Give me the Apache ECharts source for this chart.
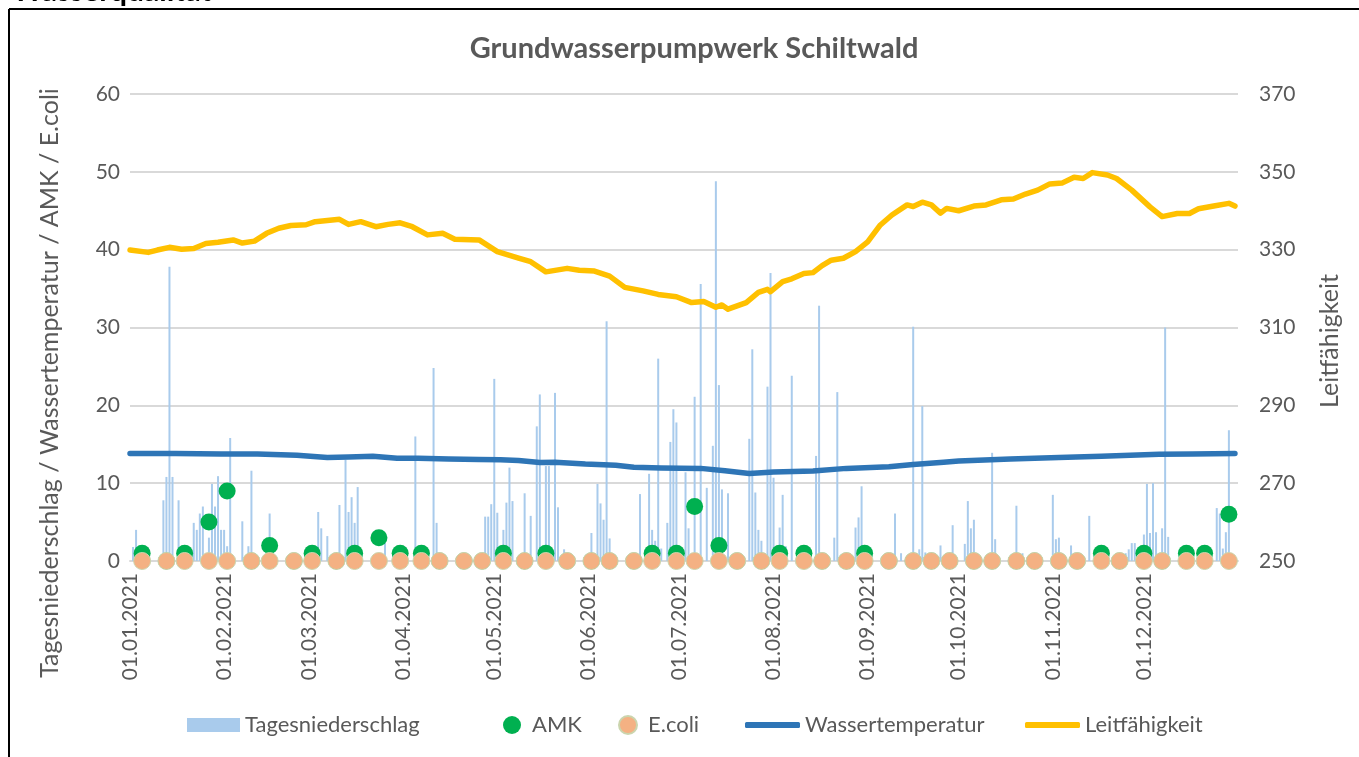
<!DOCTYPE html>
<html>
<head>
<meta charset="utf-8">
<script src="https://cdn.jsdelivr.net/npm/echarts@6/dist/echarts.min.js"></script>
<style>
  html, body { margin: 0; padding: 0; background: #fff; }
  #chart { width: 1359px; height: 757px; }
</style>
</head>
<body>
<div id="chart"></div>
<script>
// day index = days since 01.01.2021
const rainDay = [1,2,11,12,13,14,16,21,22,23,24,26,27,28,29,30,31,32,33,37,39,40,46,62,63,65,69,71,72,73,74,75,84,94,100,101,117,118,119,120,121,123,124,125,126,130,132,134,135,137,138,140,141,143,144,152,154,155,156,157,158,168,171,172,173,174,175,177,178,179,180,183,184,186,188,190,192,193,194,195,197,204,205,206,207,208,210,211,212,214,215,216,218,226,227,232,233,239,240,241,252,254,258,260,261,262,267,271,275,276,277,278,284,285,292,294,304,305,306,310,316,328,329,330,331,334,335,336,337,338,340,341,342,358,359,360,361,362];
const rainMm = [1.8,4,7.8,10.8,37.8,10.8,7.8,4.9,4,6.1,7,3,9.9,7,10.9,4,4,1.9,15.8,5.1,1.9,11.6,6.1,6.3,4.2,3.2,7.2,13,6.3,8.2,4.9,9.5,2.3,16,24.8,4.9,5.7,5.7,7.3,23.4,6.2,4,7.5,12,7.7,8.7,5.8,17.3,21.4,12.2,12.2,21.6,6.9,1.5,1,3.6,9.9,7.4,5.3,30.8,2.9,8.6,11.2,4,2.6,26,1.6,4.9,15.3,19.5,17.8,11.4,4.2,21.1,35.6,9.4,14.8,48.8,22.6,9.2,8.7,15.7,27.2,8.8,4,2.6,22.4,37,10.7,4.3,8.5,1.9,23.8,13.5,32.8,3,21.7,4.3,5.6,9.6,6.1,1,30.1,1.5,19.9,1.1,2,4.6,2.2,7.7,4.2,5.3,13.9,2.8,7.1,1,8.5,2.8,3,2,5.8,1,1.5,2.3,2.3,3.4,9.9,3.6,10,3.7,4.2,30,3.1,6.8,6.1,1.6,3.7,16.8];

const sampleDay = [4,12,18,26,32,40,46,54,60,68,74,82,89,96,102,110,116,123,130,137,144,152,158,166,172,180,186,194,200,208,214,222,228,236,242,250,258,264,270,278,284,292,298,306,312,320,326,334,340,348,354,362];
const amk = [1,0,1,5,9,0,2,0,1,0,1,3,1,1,0,0,0,1,0,1,0,0,0,0,1,1,7,2,0,0,1,1,0,0,1,0,0,0,0,0,0,0,0,0,0,1,0,1,0,1,1,6];
const ecoli = [0,0,0,0,0,0,0,0,0,0,0,0,0,0,0,0,0,0,0,0,0,0,0,0,0,0,0,0,0,0,0,0,0,0,0,0,0,0,0,0,0,0,0,0,0,0,0,0,0,0,0,0];

const tempDay = [0,15,30,42,55,65,72,80,88,95,105,115,122,128,135,140,150,160,166,175,188,196,204,212,225,236,250,258,268,273,290,306,320,339,350,364];
const tempC = [13.8,13.8,13.75,13.75,13.6,13.3,13.35,13.45,13.2,13.2,13.1,13.05,13.0,12.9,12.65,12.7,12.45,12.3,12.05,11.95,11.9,11.6,11.25,11.45,11.55,11.9,12.1,12.4,12.7,12.85,13.1,13.3,13.45,13.7,13.75,13.8];

const lfDay = [0,6,9,13,17,21,25,29,34,37,41,45,49,53,58,61,69,72,76,81,85,89,93,98,103,107,115,121,128,132,137,144,148,153,158,163,169,174,180,185,189,193,195,197,203,207,210,211,215,218,222,225,228,231,235,239,243,247,251,256,258,261,264,267,269,273,278,282,287,291,295,299,303,307,311,314,317,322,325,330,336,340,345,349,352,357,362,364];
const lfVal = [329.9,329.3,329.9,330.6,330.1,330.3,331.6,331.9,332.5,331.7,332.2,334.2,335.5,336.2,336.4,337.2,337.8,336.5,337.2,335.9,336.5,336.9,335.9,333.8,334.2,332.7,332.5,329.5,327.8,326.9,324.3,325.2,324.7,324.5,323.2,320.3,319.4,318.5,317.9,316.4,316.7,315.2,315.8,314.7,316.4,319.0,319.8,319.2,321.8,322.5,323.9,324.1,325.9,327.3,327.8,329.5,332.0,336.2,338.9,341.5,341.1,342.2,341.5,339.4,340.6,340.0,341.2,341.5,342.8,343.0,344.3,345.3,346.9,347.1,348.6,348.3,349.8,349.2,348.3,345.3,341.0,338.5,339.3,339.3,340.5,341.2,341.9,341.2];

const monthStarts = [0,1,2,3,4,5,6,7,8,9,10,11];

const toTime = d => new Date(2021, 0, 1 + d).getTime();
const pair = (days, vals) => days.map((d, i) => [toTime(d), vals[i]]);
const pad = n => (n < 10 ? '0' : '') + n;
const fmtDate = v => { const d = new Date(v); return pad(d.getDate()) + '.' + pad(d.getMonth() + 1) + '.' + d.getFullYear(); };

const FONT = 'Lato';
const GREY = '#595959';

const chart = echarts.init(document.getElementById('chart'));

const legendBase = {
  top: 713, padding: 0,
  textStyle: { color: GREY, fontSize: 22, fontFamily: FONT, lineHeight: 24 },
  selectedMode: false
};
// dot entries have a wider gap before their text
const dotText = { color: GREY, fontSize: 22, fontFamily: FONT, lineHeight: 24, padding: [0, 0, 0, 6] };

chart.setOption({
  animation: false,
  textStyle: { fontFamily: FONT },
  title: {
    text: 'Grundwasserpumpwerk Schiltwald',
    left: 689, top: 29, textAlign: 'center',
    textStyle: { color: GREY, fontSize: 29, fontWeight: 'bold', fontFamily: FONT }
  },
  grid: { left: 130, right: 121, top: 94, bottom: 196 },
  xAxis: {
    type: 'value',
    min: toTime(0), max: toTime(365),
    axisLine: { lineStyle: { color: '#D9D9D9', width: 2 } },
    axisTick: { show: false },
    splitLine: { show: false },
    axisLabel: {
      customValues: monthStarts.map(m => new Date(2021, m, 1).getTime()),
      rotate: 90, margin: 12, color: GREY, fontSize: 21, fontFamily: FONT,
      formatter: fmtDate
    }
  },
  yAxis: [
    {
      type: 'value', min: 0, max: 60, interval: 10,
      axisLine: { show: false }, axisTick: { show: false },
      splitLine: { lineStyle: { color: '#D9D9D9', width: 2 } },
      axisLabel: { color: GREY, fontSize: 21, margin: 10, fontFamily: FONT }
    },
    {
      type: 'value', min: 250, max: 370, interval: 20,
      axisLine: { show: false }, axisTick: { show: false },
      splitLine: { show: false },
      axisLabel: { color: GREY, fontSize: 21, margin: 21, fontFamily: FONT }
    }
  ],
  legend: [
    Object.assign({}, legendBase, { left: 187, data: ['Tagesniederschlag'], icon: 'rect', itemWidth: 53, itemHeight: 14 }),
    Object.assign({}, legendBase, { left: 503, data: ['AMK'], icon: 'circle', itemWidth: 18, itemHeight: 18, textStyle: dotText }),
    Object.assign({}, legendBase, { left: 618, data: ['E.coli'], icon: 'circle', itemWidth: 18, itemHeight: 18, textStyle: dotText }),
    Object.assign({}, legendBase, { left: 745, data: ['Wassertemperatur'], icon: 'roundRect', itemWidth: 55, itemHeight: 6 }),
    Object.assign({}, legendBase, { left: 1025, data: ['Leitfähigkeit'], icon: 'roundRect', itemWidth: 55, itemHeight: 6 })
  ],
  graphic: [
    { type: 'line', shape: { x1: 9, y1: 9, x2: 1359, y2: 9 }, style: { stroke: '#000', lineWidth: 2 } },
    { type: 'line', shape: { x1: 9, y1: 9, x2: 9, y2: 757 }, style: { stroke: '#000', lineWidth: 2 } },
    { type: 'text', x: 12, y: 6, style: { text: 'Wasserqualität', font: 'bold 30px Lato', fill: '#000', verticalAlign: 'bottom' } },
    { type: 'text', x: 50, y: 383, rotation: Math.PI / 2,
      style: { text: 'Tagesniederschlag / Wassertemperatur / AMK / E.coli', font: '25px Lato', fill: GREY, align: 'center', verticalAlign: 'middle' } },
    { type: 'text', x: 1330, y: 341, rotation: Math.PI / 2,
      style: { text: 'Leitfähigkeit', font: '25px Lato', fill: GREY, align: 'center', verticalAlign: 'middle' } }
  ],
  series: [
    {
      name: 'Tagesniederschlag', type: 'bar', yAxisIndex: 0,
      barWidth: 2, itemStyle: { color: '#A9CBEC' },
      data: pair(rainDay, rainMm)
    },
    {
      name: 'AMK', type: 'scatter', yAxisIndex: 0,
      symbolSize: 17, itemStyle: { color: '#00B050', opacity: 1 },
      data: pair(sampleDay, amk)
    },
    {
      name: 'E.coli', type: 'scatter', yAxisIndex: 0,
      symbolSize: 17, itemStyle: { color: '#F4B183', borderColor: '#CBD5AE', borderWidth: 1, opacity: 1 },
      data: pair(sampleDay, ecoli)
    },
    {
      name: 'Wassertemperatur', type: 'line', yAxisIndex: 0,
      showSymbol: false, symbol: 'none',
      lineStyle: { color: '#2E75B6', width: 5.5, cap: 'round', join: 'round' },
      itemStyle: { color: '#2E75B6' },
      data: pair(tempDay, tempC)
    },
    {
      name: 'Leitfähigkeit', type: 'line', yAxisIndex: 1,
      showSymbol: false, symbol: 'none',
      lineStyle: { color: '#FFC000', width: 5.5, cap: 'round', join: 'round' },
      itemStyle: { color: '#FFC000' },
      data: pair(lfDay, lfVal)
    }
  ]
});
</script>
</body>
</html>
